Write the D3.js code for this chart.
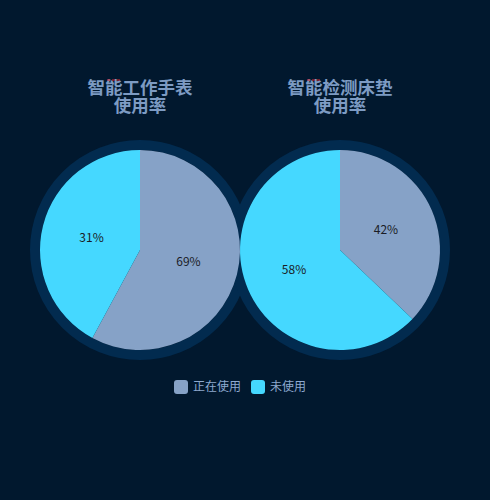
<!DOCTYPE html>
<html>
<head>
<meta charset="utf-8">
<script src="https://cdn.jsdelivr.net/npm/d3@7"></script>
<style>
  html, body { margin: 0; padding: 0; background: #01182e; }
  svg { display: block; }
</style>
</head>
<body>
<div id="chart"></div>
<script>
const width = 490;
const height = 500;

// data
const titles = [["智能工作手表", "使用率"], ["智能检测床垫", "使用率"]];
const seriesNames = ["正在使用", "未使用"];
const sliceShares = [[0.579, 0.421], [0.371, 0.629]];   // drawn slice sizes
const labelTexts = [["69%", "31%"], ["42%", "58%"]];    // printed labels

const colors = ["#86a2c7", "#45d8ff"];
const center = [[140, 250], [340, 250]];
const radius = 100;
const ringWidth = 10;

const svg = d3.select("#chart")
  .append("svg")
  .attr("width", width)
  .attr("height", height);

svg.append("rect")
  .attr("width", width)
  .attr("height", height)
  .attr("fill", "#01182e");

const pie = d3.pie().sort(null).value(d => d);
const arc = d3.arc().innerRadius(0).outerRadius(radius);
const labelArc = d3.arc().innerRadius(radius * 0.5).outerRadius(radius * 0.5);

// rings first, so both pies sit on top of them
const ringLayer = svg.append("g");
const pieLayer = svg.append("g");

titles.forEach((t, i) => {
  ringLayer.append("circle")
    .attr("cx", center[i][0])
    .attr("cy", center[i][1])
    .attr("r", radius + ringWidth / 2)
    .attr("fill", "none")
    .attr("stroke", "#022b4f")
    .attr("stroke-width", ringWidth);

  const g = pieLayer.append("g")
    .attr("transform", `translate(${center[i][0]},${center[i][1]})`);

  const arcs = pie(sliceShares[i]);
  g.selectAll("path")
    .data(arcs)
    .join("path")
      .attr("d", arc)
      .attr("fill", (d, j) => colors[j]);

  g.selectAll("text.lbl")
    .data(arcs)
    .join("text")
      .attr("class", "lbl")
      .attr("transform", d => `translate(${labelArc.centroid(d)})`)
      .attr("text-anchor", "middle")
      .attr("dy", "0.35em")
      .attr("font-family", "'Noto Sans CJK SC', 'Noto Sans', sans-serif")
      .attr("font-size", 12)
      .attr("fill", "#1a1c26")
      .text((d, j) => labelTexts[i][j]);

  // title
  const title = svg.append("text")
    .attr("text-anchor", "middle")
    .attr("font-family", "'Noto Sans CJK SC', sans-serif")
    .attr("font-weight", "bold")
    .attr("font-size", 17.5)
    .attr("fill", "#7d9bc3");
  t.forEach((line, k) => {
    title.append("tspan")
      .attr("x", center[i][0])
      .attr("y", 94 + k * 18)
      .text(line);
  });

  // small red mark on the title
  svg.append("line")
    .attr("x1", center[i][0] - 33)
    .attr("x2", center[i][0] - 18)
    .attr("y1", 80)
    .attr("y2", 80)
    .attr("stroke", "#e0202a")
    .attr("stroke-width", 1)
    .attr("stroke-dasharray", "3,2");
});

// legend
const legend = svg.append("g")
  .attr("font-family", "'Noto Sans CJK SC', sans-serif")
  .attr("font-size", 12);

const legendX = [174, 251];
seriesNames.forEach((name, j) => {
  const item = legend.append("g")
    .attr("transform", `translate(${legendX[j]},380)`);
  item.append("rect")
    .attr("width", 14)
    .attr("height", 14)
    .attr("rx", 3)
    .attr("fill", colors[j]);
  item.append("text")
    .attr("x", 19)
    .attr("y", 7)
    .attr("dy", "0.35em")
    .attr("fill", "#8ea9cf")
    .text(name);
});
</script>
</body>
</html>
